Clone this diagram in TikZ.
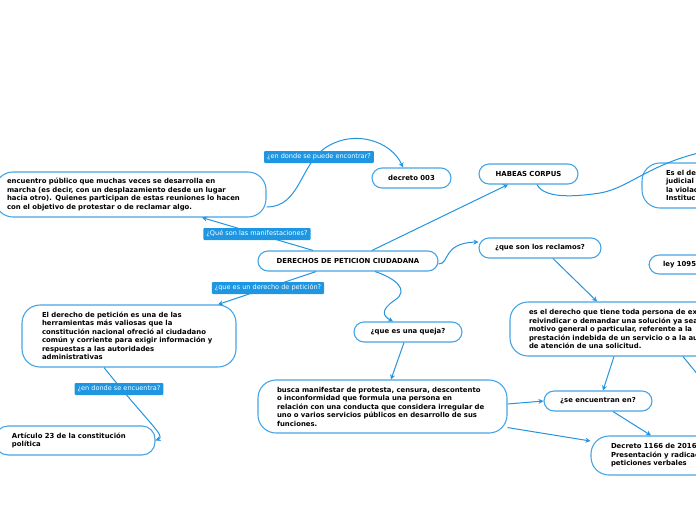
\documentclass[tikz,border=0pt]{standalone}
\usepackage{fontspec}
\setmainfont{DejaVu Sans}
\usetikzlibrary{arrows.meta}
\definecolor{nodeborder}{RGB}{70,165,230}
\definecolor{linecol}{RGB}{35,148,222}
\definecolor{labfill}{RGB}{30,150,225}
\begin{document}
\begin{tikzpicture}[x=1pt,y=-1pt,
  box/.style={draw=nodeborder,line width=1.1pt,fill=white,rounded corners=10pt,
    font=\fontsize{6.9}{8.5}\selectfont\bfseries,text=black,inner ysep=0pt},
  bigbox/.style={box,rounded corners=18pt,align=left},
  lab/.style={fill=labfill,rounded corners=1pt,text=white,inner xsep=3pt,inner ysep=0pt,
    minimum height=12pt,font=\fontsize{6.55}{7}\selectfont},
  conn/.style={draw=linecol,line width=1pt},
  arr/.style={conn,-{Stealth[length=5pt,width=5pt]}}
]
\useasboundingbox (0,0) rectangle (696,520);
\clip (0,0) rectangle (696,520);

% nodes
\node[bigbox,minimum width=271pt,minimum height=45pt,inner xsep=12pt,text width=247pt] (enc) at (130.5,194.5)
 {encuentro público que muchas veces se desarrolla en\\marcha (es decir, con un desplazamiento desde un lugar\\hacia otro). Quienes participan de estas reuniones lo hacen\\con el objetivo de protestar o de reclamar algo.};
\node[box,minimum width=79pt,minimum height=20pt] (dec003) at (411.5,178) {decreto 003};
\node[box,minimum width=99pt,minimum height=20pt] (habeas) at (528.5,174) {HABEAS CORPUS};
\node[bigbox,minimum width=220pt,minimum height=45pt,inner xsep=24pt,text width=172pt] (esel) at (752,185.5)
 {Es el derecho\\judicial que\\la violación\\Institucional};
\node[box,minimum width=180pt,minimum height=20pt] (derechos) at (348,261) {DERECHOS DE PETICION CIUDADANA};
\node[box,minimum width=122pt,minimum height=20pt] (reclamos) at (540,248) {¿que son los reclamos?};
\node[box,minimum width=100pt,minimum height=19pt,inner xsep=14pt,text width=72pt,align=left] (ley) at (699,264.5) {ley 1095};
\node[bigbox,minimum width=300pt,minimum height=54pt,inner xsep=19pt,text width=262pt] (esder) at (660,329)
 {es el derecho que tiene toda persona de exigir,\\reivindicar o demandar una solución ya sea por\\motivo general o particular, referente a la\\prestación indebida de un servicio o a la ausencia\\de atención de una solicitud.};
\node[box,minimum width=108pt,minimum height=20pt] (queja) at (408,332) {¿que es una queja?};
\node[bigbox,minimum width=214pt,minimum height=62pt,inner xsep=20pt,text width=174pt] (elder) at (129,336)
 {El derecho de petición es una de las\\herramientas más valiosas que la\\constitución nacional ofreció al ciudadano\\común y corriente para exigir información y\\respuestas a las autoridades\\administrativas};
\node[bigbox,rounded corners=13pt,minimum width=160pt,minimum height=29pt,inner xsep=17pt,text width=126pt] (art) at (75,440.5)
 {Artículo 23 de la constitución\\política};
\node[bigbox,minimum width=249pt,minimum height=53pt,inner xsep=19pt,text width=211pt] (busca) at (382.5,406.5)
 {busca manifestar de protesta, censura, descontento\\o inconformidad que formula una persona en\\relación con una conducta que considera irregular de\\uno o varios servicios públicos en desarrollo de sus\\funciones.};
\node[box,minimum width=108pt,minimum height=20pt] (seenc) at (598,401) {¿se encuentran en?};
\node[bigbox,minimum width=200pt,minimum height=39pt,inner xsep=20pt,text width=160pt] (dec1166) at (691,455.5)
 {Decreto 1166 de 2016:\\Presentación y radicación de\\peticiones verbales};

\coordinate (off1) at (712,150);
\coordinate (off2) at (712,392);

% connectors
\draw[arr] ([xshift=-35pt]derechos.north) -- ([xshift=71.5pt]enc.south);
\draw[arr] ([xshift=-32pt]derechos.south) -- ([xshift=89pt]elder.north);
\draw[arr] ([xshift=-25pt]elder.south) .. controls (150,425) and (166,436) .. (art.east);
\draw[arr] ([yshift=-12.5pt]enc.east) .. controls (300,207) and (300,165) .. (325,148) .. controls (355,128) and (392,142) .. ([xshift=-8.5pt]dec003.north);
\draw[arr] ([xshift=24pt]derechos.north) -- ([xshift=-20.5pt]habeas.south);
\draw[conn] ([xshift=8.5pt]habeas.south) .. controls (545,200) and (580,196) .. (600,193) .. controls (630,188) and (650,162) .. (off1);
\draw[arr] ([yshift=-3pt]derechos.east) .. controls (450,264) and (442,243) .. ([yshift=6pt]reclamos.west);
\draw[arr] ([xshift=13pt]reclamos.south) -- ([xshift=-63pt]esder.north);
\draw[arr] ([xshift=27pt]derechos.south) .. controls (395,278) and (410,290) .. (395,300) .. controls (380,310) and (383,316) .. ([xshift=-15pt]queja.north);
\draw[arr] ([xshift=-4pt]queja.south) -- ([xshift=8.5pt]busca.north);
\draw[arr] ([yshift=2.5pt]busca.east) -- (seenc.west);
\draw[arr] ([yshift=6pt]busca.south east) -- ([yshift=14.5pt]dec1166.west);
\draw[arr] ([xshift=-46pt]esder.south) -- ([xshift=5pt]seenc.north);
\draw[arr] ([xshift=15pt]seenc.south) -- ([xshift=-40pt]dec1166.north);
\draw[conn] ([xshift=23pt]esder.south) -- (off2);

% labels
\node[lab] (l1) at (319,157) {¿en donde se puede encontrar?};
\node[lab] (l2) at (257,234) {¿Qué son las manifestaciones?};
\node[lab] (l3) at (268,288) {¿que es un derecho de petición?};
\node[lab] (l4) at (119,389) {¿en donde se encuentra?};
\end{tikzpicture}
\end{document}
